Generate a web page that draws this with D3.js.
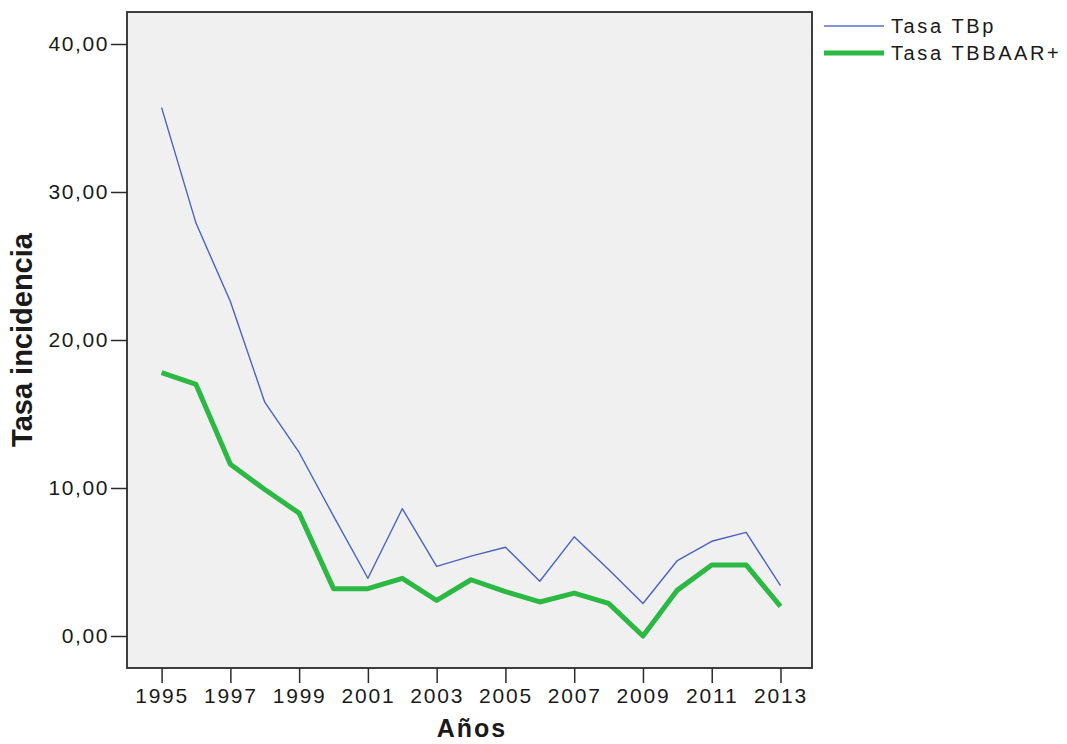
<!DOCTYPE html>
<html>
<head>
<meta charset="utf-8">
<script src="https://cdn.jsdelivr.net/npm/d3@7"></script>
<style>
  body { margin: 0; background: #fff; }
  text { font-family: Arial, "Liberation Sans", sans-serif; fill: #1a1a1a; }
</style>
</head>
<body>
<script>
var width = 1067;
var height = 744;

// datos
var years = [1995, 1996, 1997, 1998, 1999, 2000, 2001, 2002, 2003, 2004, 2005, 2006, 2007, 2008, 2009, 2010, 2011, 2012, 2013];
var tasaTBp = [35.7, 27.9, 22.6, 15.8, 12.4, 8.1, 3.9, 8.6, 4.7, 5.4, 6.0, 3.7, 6.7, 4.5, 2.2, 5.1, 6.4, 7.0, 3.4];
var tasaTBBAAR = [17.8, 17.0, 11.6, 9.9, 8.3, 3.2, 3.2, 3.9, 2.4, 3.8, 3.0, 2.3, 2.9, 2.2, 0.0, 3.1, 4.8, 4.8, 2.0];
var yTicks = [0, 10, 20, 30, 40];
var xTicks = [1995, 1997, 1999, 2001, 2003, 2005, 2007, 2009, 2011, 2013];
var seriesNames = ["Tasa TBp", "Tasa TBBAAR+"];

var frame = { left: 127, right: 812, top: 12, bottom: 668 };

var svg = d3
  .select("body")
  .append("svg")
  .attr("width", width)
  .attr("height", height);

var xScale = d3.scaleLinear().domain([1995, 2013]).range([161.6, 780.5]);
var yScale = d3.scaleLinear().domain([0, 40]).range([636, 44]);

// fondo del grafico
svg
  .append("rect")
  .attr("x", frame.left)
  .attr("y", frame.top)
  .attr("width", frame.right - frame.left)
  .attr("height", frame.bottom - frame.top)
  .attr("fill", "#f0f0f0")
  .attr("stroke", "#2a2a2a")
  .attr("stroke-width", 1.8);

// ejes
var fmt = function (d) {
  return d3.format(".2f")(d).replace(".", ",");
};

var gy = svg
  .append("g")
  .attr("transform", "translate(" + frame.left + ",0)")
  .call(d3.axisLeft(yScale).tickValues(yTicks).tickSize(16).tickFormat(fmt));
gy.select(".domain").remove();
gy.selectAll(".tick line").attr("stroke", "#2a2a2a").attr("stroke-width", 1.5);
gy.selectAll(".tick text")
  .attr("font-size", "21px")
  .attr("letter-spacing", "1.6px")
  .attr("x", -18)
  .style("fill", "#1a1a1a");

var gx = svg
  .append("g")
  .attr("transform", "translate(0," + frame.bottom + ")")
  .call(d3.axisBottom(xScale).tickValues(xTicks).tickSize(15).tickFormat(d3.format("d")));
gx.select(".domain").remove();
gx.selectAll(".tick line").attr("stroke", "#2a2a2a").attr("stroke-width", 1.5);
gx.selectAll(".tick text")
  .attr("font-size", "21px")
  .attr("letter-spacing", "1.8px")
  .attr("y", 20)
  .style("fill", "#1a1a1a");

// titulos de ejes
svg
  .append("text")
  .attr("transform", "translate(32,340) rotate(-90)")
  .attr("text-anchor", "middle")
  .attr("font-size", "29px")
  .attr("font-weight", "bold")
  .text("Tasa incidencia");

svg
  .append("text")
  .attr("x", 472)
  .attr("y", 737)
  .attr("text-anchor", "middle")
  .attr("font-size", "25px")
  .attr("font-weight", "bold")
  .attr("letter-spacing", "2px")
  .text("Años");

// lineas
var line = function (vals) {
  return d3
    .line()
    .x(function (d, i) {
      return xScale(years[i]);
    })
    .y(function (d) {
      return yScale(d);
    })(vals);
};

svg
  .append("path")
  .attr("d", line(tasaTBBAAR))
  .attr("fill", "none")
  .attr("stroke", "#2bb843")
  .attr("stroke-width", 5)
  .attr("stroke-linejoin", "round");

svg
  .append("path")
  .attr("d", line(tasaTBp))
  .attr("fill", "none")
  .attr("stroke", "#4a62c2")
  .attr("stroke-width", 1.4)
  .attr("stroke-linejoin", "round");

// leyenda
var legend = svg.append("g");
var legendStyle = [
  { color: "#5a72c8", w: 1.6, y: 26 },
  { color: "#2bb843", w: 5, y: 53 }
];
seriesNames.forEach(function (name, i) {
  legend
    .append("line")
    .attr("x1", 824)
    .attr("x2", 884)
    .attr("y1", legendStyle[i].y)
    .attr("y2", legendStyle[i].y)
    .attr("stroke", legendStyle[i].color)
    .attr("stroke-width", legendStyle[i].w);
  legend
    .append("text")
    .attr("x", 891)
    .attr("y", legendStyle[i].y + 7)
    .attr("font-size", "20px")
    .attr("letter-spacing", "2.6px")
    .text(name);
});
</script>
</body>
</html>
